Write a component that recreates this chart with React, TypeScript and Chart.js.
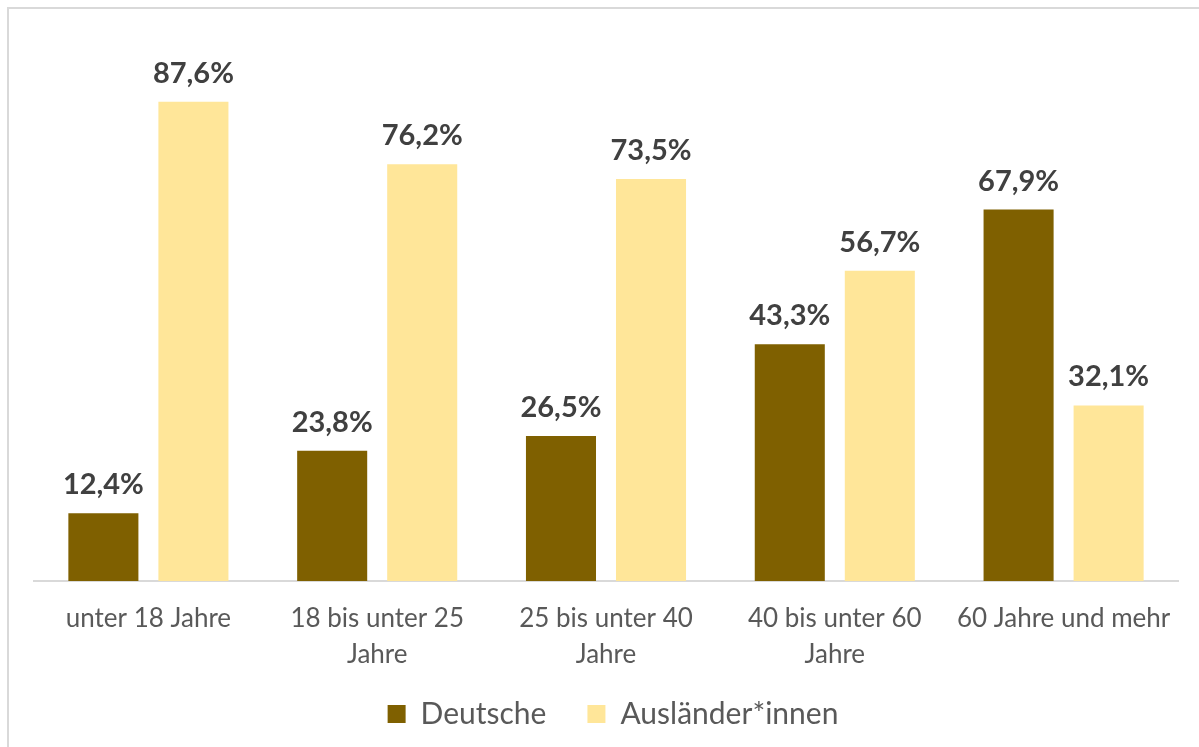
import React, { useEffect, useRef } from "react";
import { Chart, registerables } from "chart.js";

Chart.register(...registerables);

const categories: (string | string[])[] = [
  "unter 18 Jahre",
  ["18 bis unter 25", "Jahre"],
  ["25 bis unter 40", "Jahre"],
  ["40 bis unter 60", "Jahre"],
  "60 Jahre und mehr",
];
const seriesNames = ["Deutsche", "Ausländer*innen"];
const deutsche = [12.4, 23.8, 26.5, 43.3, 67.9];
const auslaender = [87.6, 76.2, 73.5, 56.7, 32.1];

const FONT = "Lato, Carlito, Calibri, 'Noto Sans', sans-serif";

const fmt = (v: number) => v.toFixed(1).replace(".", ",") + "%";

const valueLabels = {
  id: "valueLabels",
  afterDatasetsDraw(chart: any) {
    const ctx = chart.ctx;
    ctx.save();
    ctx.font = `bold 29px ${FONT}`;
    ctx.fillStyle = "#404040";
    ctx.textAlign = "center";
    ctx.textBaseline = "alphabetic";
    chart.data.datasets.forEach((ds: any, di: number) => {
      const meta = chart.getDatasetMeta(di);
      meta.data.forEach((bar: any, i: number) => {
        ctx.fillText(fmt(ds.data[i]), bar.x, bar.y - 19);
      });
    });
    ctx.restore();
  },
};

// place the legend row a little higher / right than the default layout would
const legendPlacement = {
  id: "legendPlacement",
  afterLayout(chart: any) {
    const lg = chart.legend;
    if (!lg) return;
    const w = lg.width;
    const h = 89;
    lg.top = 649;
    lg.height = h;
    lg.bottom = 649 + h;
    lg.left = lg.left + 7;
    lg.right = lg.left + w;
  },
};

export default function App() {
  const ref = useRef<HTMLCanvasElement | null>(null);
  useEffect(() => {
    if (!ref.current) return;
    const chart = new Chart(ref.current, {
      type: "bar",
      data: {
        labels: categories as any,
        datasets: [
          {
            label: seriesNames[0],
            data: deutsche,
            backgroundColor: "#7F6000",
            categoryPercentage: 0.787,
            barPercentage: 0.778,
          },
          {
            label: seriesNames[1],
            data: auslaender,
            backgroundColor: "#FFE699",
            categoryPercentage: 0.787,
            barPercentage: 0.778,
          },
        ],
      },
      options: {
        animation: false,
        responsive: false,
        maintainAspectRatio: false,
        layout: { padding: { left: 25, right: 21, top: 25, bottom: 8 } },
        events: [],
        scales: {
          x: {
            grid: { display: false, drawTicks: false },
            border: { display: true, color: "#D9D9D9", width: 2 },
            ticks: {
              color: "#595959",
              font: { family: FONT, size: 26, lineHeight: 1.385 },
              padding: 20,
              maxRotation: 0,
              minRotation: 0,
              autoSkip: false,
            },
            afterFit: (scale: any) => {
              scale.height = 100;
            },
          },
          y: {
            display: false,
            min: 0,
            max: 100,
          },
        },
        plugins: {
          legend: {
            position: "bottom",
            maxHeight: 58,
            labels: {
              color: "#595959",
              font: { family: FONT, size: 30 },
              boxWidth: 18,
              boxHeight: 18,
              padding: 41,
            },
          },
          tooltip: { enabled: false },
          title: { display: false },
        },
      },
      plugins: [valueLabels, legendPlacement],
    });
    return () => chart.destroy();
  }, []);

  return (
    <div
      style={{
        position: "absolute",
        left: 7,
        top: 7,
        width: 1190,
        height: 738,
        borderTop: "2px solid #D9D9D9",
        borderLeft: "2px solid #D9D9D9",
        background: "#FFFFFF",
        overflow: "hidden",
      }}
    >
      <canvas ref={ref} width={1190} height={738} style={{ display: "block" }} />
    </div>
  );
}
